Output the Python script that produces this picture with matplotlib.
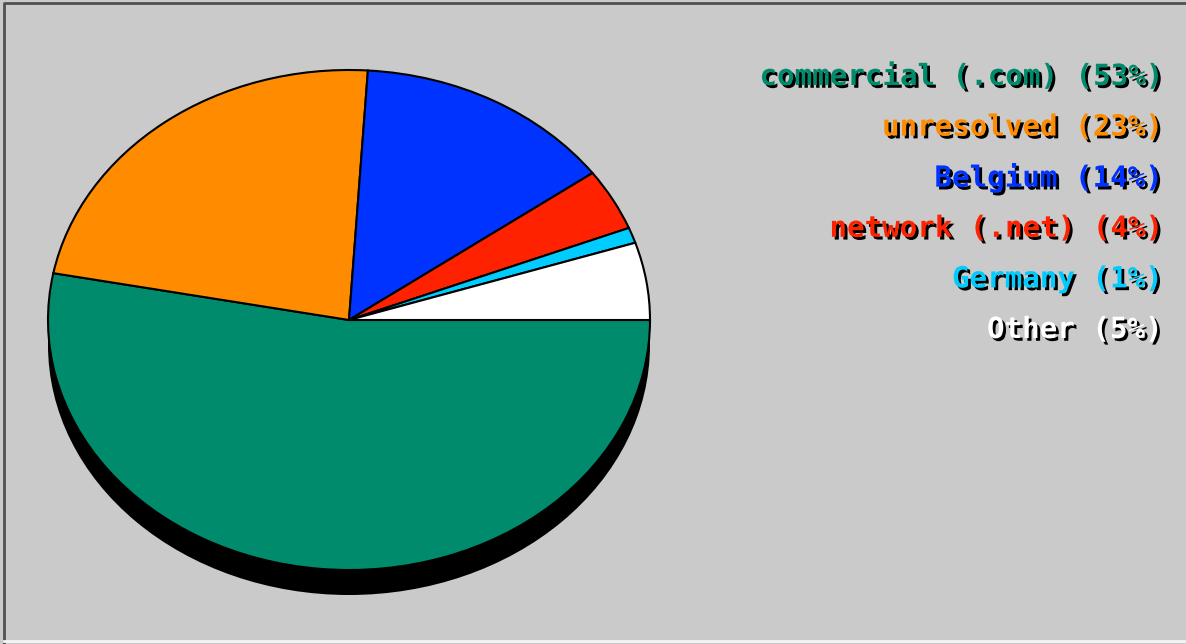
import matplotlib.pyplot as plt
import matplotlib.patheffects as pe
from matplotlib.patches import Ellipse

# dominios de visitantes
etiquetas = ['commercial (.com)', 'unresolved', 'Belgium', 'network (.net)', 'Germany', 'Other']
porcentajes = [53, 23, 14, 4, 1, 5]
colores = ['#008c6c', '#ff8c00', '#0033ff', '#ff2200', '#00ccff', '#ffffff']

fondo = '#cacaca'
W, H = 1186, 644

fig = plt.figure(figsize=(W / 100, H / 100), dpi=100, facecolor=fondo)

# capa de fondo en pixeles para el marco y los textos
base = fig.add_axes([0, 0, 1, 1])
base.set_xlim(0, W)
base.set_ylim(H, 0)
base.axis('off')
base.plot([4, 4, W], [H, 3, 3], color='#505050', lw=2)
base.plot([4, W], [641, 641], color='#f4f4f4', lw=2)

# torta (eliptica, sin aspecto igual)
cx, cy, rx, ry = 349, 320, 301, 250
ax = fig.add_axes([(cx - rx) / W, (H - cy - ry) / H, 2 * rx / W, 2 * ry / H])

# sombra negra debajo de la torta
ax.add_patch(Ellipse((0, -0.1), 2, 2, facecolor='black', edgecolor='none',
                     clip_on=False, zorder=0))

cunas, _ = ax.pie(porcentajes, colors=colores, startangle=0, counterclock=False,
                  radius=1, center=(0, 0), frame=True,
                  wedgeprops=dict(edgecolor='black', linewidth=1.5))
for c in cunas:
    c.set_clip_on(False)
    c.set_zorder(2)
ax.set_aspect('auto')
ax.set_xlim(-1, 1)
ax.set_ylim(-1, 1)
ax.axis('off')

# leyenda como texto alineado a la derecha
sombra = [pe.withSimplePatchShadow(offset=(2, -2), shadow_rgbFace='black', alpha=1.0)]
y0, paso = 77, 50.6
for i, (et, p, col) in enumerate(zip(etiquetas, porcentajes, colores)):
    base.text(1162, y0 + i * paso, f"{et} ({p}%)", color=col, ha='right', va='center',
              fontsize=21, fontweight='bold', family='DejaVu Sans Mono',
              path_effects=sombra)

fig.savefig('out.png', dpi=100, facecolor=fondo)
